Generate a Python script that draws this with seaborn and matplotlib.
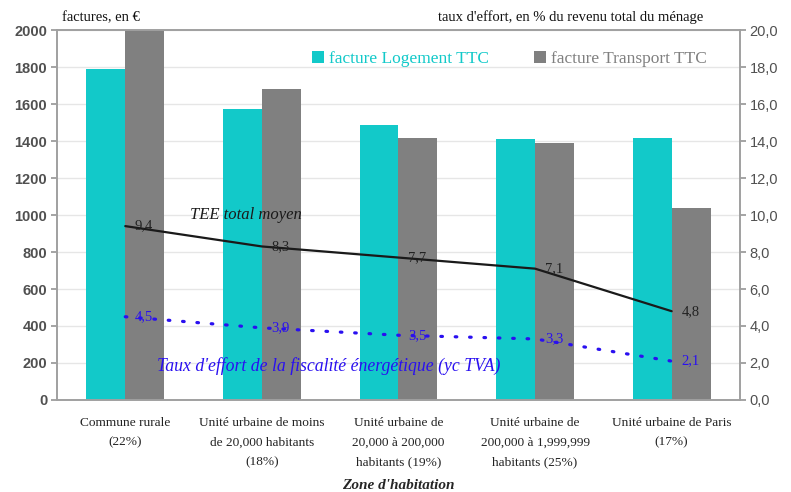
import numpy as np
import pandas as pd
import matplotlib
matplotlib.use("Agg")
import matplotlib.pyplot as plt
import seaborn as sns
from matplotlib.patches import Patch

# Zones d'habitation
categories = [
    "Commune rurale\n(22%)",
    "Unité urbaine de moins\nde 20,000 habitants\n(18%)",
    "Unité urbaine de\n20,000 à 200,000\nhabitants (19%)",
    "Unité urbaine de\n200,000 à 1,999,999\nhabitants (25%)",
    "Unité urbaine de Paris\n(17%)",
]
series_names = ["facture Logement TTC", "facture Transport TTC"]
logement = [1790, 1575, 1485, 1410, 1415]
transport = [2000, 1680, 1415, 1390, 1040]
tee_total = [9.4, 8.3, 7.7, 7.1, 4.8]
taux_fiscalite = [4.5, 3.9, 3.5, 3.3, 2.1]
left_ticks = list(range(0, 2001, 200))
right_ticks = [0, 2, 4, 6, 8, 10, 12, 14, 16, 18, 20]

CYAN = "#12C9C9"
GREY = "#808080"
BLUE = "#2A10F0"
TICK_COLOR = "#505050"

sns.set_theme(style="white")
plt.rcParams["font.family"] = ["Liberation Serif", "DejaVu Serif"]

df = pd.DataFrame({
    "zone": categories * 2,
    "serie": [series_names[0]] * len(categories) + [series_names[1]] * len(categories),
    "valeur": logement + transport,
})

fig = plt.figure(figsize=(7.91, 4.92), dpi=100)
ax = fig.add_axes([0.072, 0.187, 0.8635, 0.752])

sns.barplot(data=df, x="zone", y="valeur", hue="serie", order=categories,
            hue_order=series_names, palette=[CYAN, GREY], width=0.57,
            saturation=1, ax=ax, legend=False, errorbar=None, linewidth=0)

ax.set_ylim(0, 2000)
ax.set_xlim(-0.5, len(categories) - 0.5)
ax.set_yticks(left_ticks)
ax.set_yticklabels([str(t) for t in left_ticks], family=["Liberation Sans", "DejaVu Sans"],
                   fontsize=10.5, color=TICK_COLOR, fontweight="bold")
ax.yaxis.grid(True, color="#E6E6E6", linewidth=1)
ax.set_axisbelow(True)
ax.set_xlabel("Zone d'habitation", fontsize=11, fontweight="bold", style="italic",
              labelpad=8)
ax.set_ylabel("")
ax.set_xticks(np.arange(len(categories)))
ax.set_xticklabels(categories, fontsize=9.6, color="#222222", linespacing=1.85)
ax.tick_params(axis="x", length=0, pad=12)
ax.set_xticks(np.arange(len(categories) + 1) - 0.5, minor=True)
ax.tick_params(axis="x", which="minor", length=4, color="#999999", direction="out")
ax.tick_params(axis="y", length=4, color="#999999", direction="out", left=True, pad=3)
for side in ["left", "bottom", "top", "right"]:
    ax.spines[side].set_color("#A0A0A0")
    ax.spines[side].set_linewidth(1.2)

# Taux d'effort sur l'axe secondaire
ax2 = ax.twinx()
xpos = np.arange(len(categories))
lines_df = pd.DataFrame({"x": xpos, "tee": tee_total, "fisc": taux_fiscalite})
sns.lineplot(data=lines_df, x="x", y="tee", ax=ax2, color="#1A1A1A", linewidth=1.6,
             sort=False)
sns.lineplot(data=lines_df, x="x", y="fisc", ax=ax2, color=BLUE, linewidth=2.3,
             sort=False, dashes=False)
ax2.lines[-1].set_linestyle((0, (0.5, 4.0)))
ax2.lines[-1].set_dash_capstyle("round")
ax2.set_ylim(0, 20)
ax2.set_xlim(-0.5, len(categories) - 0.5)
ax2.set_yticks(right_ticks)
ax2.set_yticklabels([f"{t:.1f}".replace(".", ",") for t in right_ticks],
                    family=["Liberation Sans", "DejaVu Sans"], fontsize=10.5,
                    color=TICK_COLOR)
ax2.tick_params(axis="y", length=4, color="#999999", direction="out", right=True, pad=3)
ax2.set_ylabel("")
ax2.set_xlabel("")
for side in ["left", "bottom", "top", "right"]:
    ax2.spines[side].set_color("#A0A0A0")
    ax2.spines[side].set_linewidth(1.2)

for x, v in zip(xpos, tee_total):
    ax2.annotate(f"{v:.1f}".replace(".", ","), (x, v), xytext=(7, 0),
                 textcoords="offset points", ha="left", va="center",
                 fontsize=10.5, color="#222222")
for x, v in zip(xpos, taux_fiscalite):
    ax2.annotate(f"{v:.1f}".replace(".", ","), (x, v), xytext=(7, 0),
                 textcoords="offset points", ha="left", va="center",
                 fontsize=10.5, color=BLUE)

ax2.text(0.88, 10.0, "TEE total moyen", style="italic", fontsize=12,
         color="#1A1A1A", ha="center", va="center")
ax2.text(1.49, 1.85, "Taux d'effort de la fiscalité énergétique (yc TVA)",
         style="italic", fontsize=12.8, color=BLUE, ha="center", va="center")

# Légende
handles = [Patch(facecolor=CYAN, edgecolor="none"), Patch(facecolor=GREY, edgecolor="none")]
leg = ax2.legend(handles, series_names, loc="upper right", bbox_to_anchor=(0.975, 0.985),
                 ncol=2, frameon=False, fontsize=12.5, handlelength=0.7, handleheight=0.7,
                 handletextpad=0.3, columnspacing=2.6)
for txt, col in zip(leg.get_texts(), [CYAN, GREY]):
    txt.set_color(col)

# Titres des axes
fig.text(0.078, 0.965, "factures, en €", fontsize=10.5, color="#111111",
         ha="left", va="center")
fig.text(0.722, 0.965, "taux d'effort, en % du revenu total du ménage", fontsize=10.5,
         color="#111111", ha="center", va="center")

fig.savefig("out.png", dpi=100)
